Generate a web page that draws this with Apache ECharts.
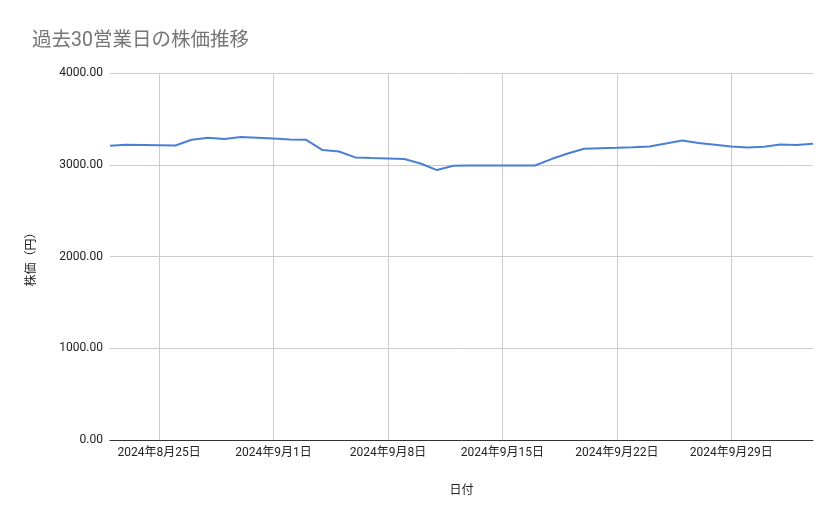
<!DOCTYPE html>
<html>
<head>
<meta charset="utf-8">
<script src="https://cdn.jsdelivr.net/npm/echarts@6/dist/echarts.min.js"></script>
<style>
  html, body { margin: 0; padding: 0; background: #fff; }
  #chart { width: 839px; height: 519px; }
</style>
</head>
<body>
<div id="chart"></div>
<script>
// daily closing prices
var dates = [
  '2024-08-22', '2024-08-23', '2024-08-24', '2024-08-25', '2024-08-26', '2024-08-27',
  '2024-08-28', '2024-08-29', '2024-08-30', '2024-08-31', '2024-09-01', '2024-09-02',
  '2024-09-03', '2024-09-04', '2024-09-05', '2024-09-06', '2024-09-07', '2024-09-08',
  '2024-09-09', '2024-09-10', '2024-09-11', '2024-09-12', '2024-09-13', '2024-09-14',
  '2024-09-15', '2024-09-16', '2024-09-17', '2024-09-18', '2024-09-19', '2024-09-20',
  '2024-09-21', '2024-09-22', '2024-09-23', '2024-09-24', '2024-09-25', '2024-09-26',
  '2024-09-27', '2024-09-28', '2024-09-29', '2024-09-30', '2024-10-01', '2024-10-02',
  '2024-10-03', '2024-10-04'
];
var prices = [
  3207, 3218, 3216, 3213, 3210, 3272,
  3294, 3280, 3302, 3294, 3285, 3276,
  3272, 3160, 3145, 3080, 3073, 3069,
  3062, 3014, 2942, 2989, 2991, 2992,
  2993, 2992, 2992, 3062, 3123, 3175,
  3180, 3185, 3192, 3200, 3232, 3265,
  3236, 3218, 3200, 3189, 3196, 3221,
  3214, 3229
];
var yTicks = { min: 0, max: 4000, step: 1000 };

var FONT = 'Roboto, "Noto Sans CJK JP", sans-serif';

function isSunday(idx) {
  var d = new Date(dates[idx] + 'T00:00:00');
  return d.getDay() === 0;
}

var myChart = echarts.init(document.getElementById('chart'));
myChart.setOption({
  animation: false,
  title: {
    text: '過去30営業日の株価推移',
    left: 27,
    top: 26,
    textStyle: { color: '#757575', fontSize: 19.5, fontWeight: 'normal', fontFamily: FONT }
  },
  grid: { left: 110, right: 26, top: 73, bottom: 79 },
  xAxis: {
    type: 'category',
    data: dates,
    boundaryGap: false,
    name: '日付',
    nameLocation: 'middle',
    nameGap: 45,
    nameTextStyle: { color: '#222', fontSize: 12, fontFamily: FONT },
    axisLine: { lineStyle: { color: '#333', width: 1 } },
    axisTick: { show: false },
    axisLabel: {
      interval: function (idx) { return isSunday(idx); },
      color: '#222',
      fontSize: 12,
      fontFamily: FONT,
      margin: 7,
      formatter: function (v) {
        var p = v.split('-');
        return p[0] + '年' + parseInt(p[1], 10) + '月' + parseInt(p[2], 10) + '日';
      }
    },
    splitLine: {
      show: true,
      interval: function (idx) { return isSunday(idx); },
      lineStyle: { color: '#cccccc', width: 1 }
    }
  },
  yAxis: {
    type: 'value',
    min: yTicks.min,
    max: yTicks.max,
    interval: yTicks.step,
    name: '株価（円）',
    nameLocation: 'middle',
    nameGap: 72,
    nameTextStyle: { color: '#222', fontSize: 12, fontFamily: FONT },
    axisLine: { show: false },
    axisTick: { show: false },
    axisLabel: {
      color: '#222',
      fontSize: 12,
      fontFamily: FONT,
      margin: 7,
      formatter: function (v) { return v.toFixed(2); }
    },
    splitLine: { lineStyle: { color: '#cccccc', width: 1 } }
  },
  series: [{
    type: 'line',
    data: prices,
    showSymbol: false,
    symbol: 'none',
    lineStyle: { color: '#4a7fd6', width: 2 },
    itemStyle: { color: '#4a7fd6' }
  }]
});
</script>
</body>
</html>
